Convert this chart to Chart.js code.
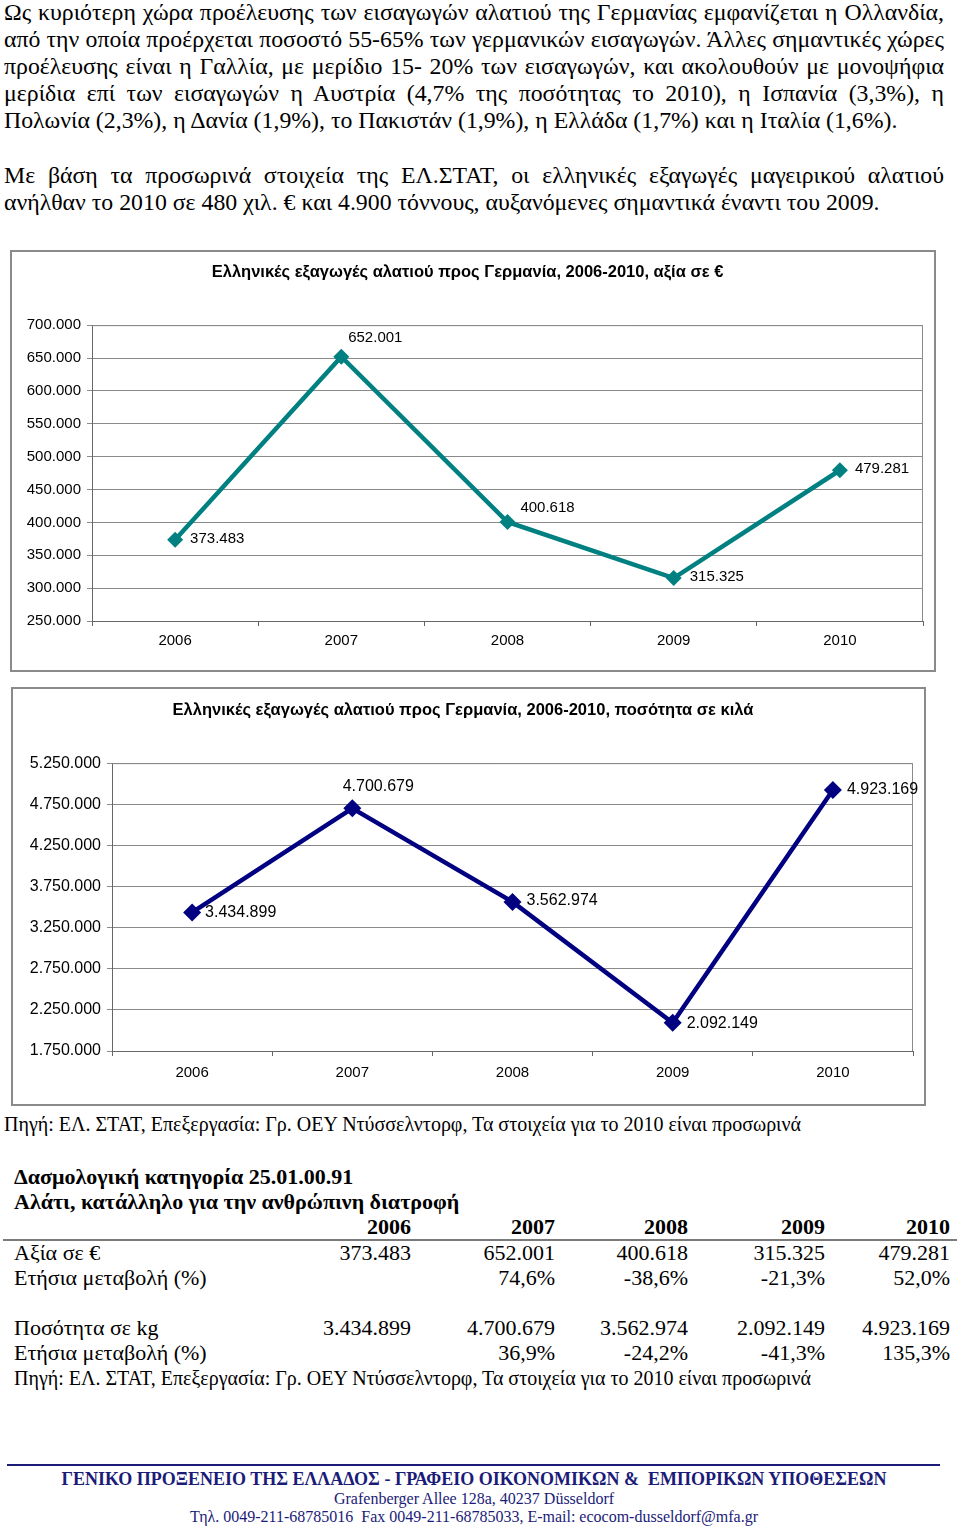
<!DOCTYPE html>
<html lang="el">
<head>
<meta charset="utf-8">
<script src="https://cdn.jsdelivr.net/npm/chart.js@4/dist/chart.umd.min.js"></script>
<style>
  body { margin: 0; background: #fff; width: 960px; height: 1535px; position: relative; overflow: hidden;
         font-family: "Liberation Serif", "Times New Roman", serif; color: #000; }
  .ln { position: absolute; left: 4px; width: 940px; font-size: 23.8px; line-height: 27px; white-space: nowrap; }
  .just { text-align: justify; text-align-last: justify; white-space: normal; }
  .box { position: absolute; border: 2px solid #8a8a8a; background: #fff; }
  .box canvas { display: block; }
  .src { position: absolute; font-size: 20px; line-height: 25px; white-space: nowrap; }
  #tbl { position: absolute; left: 14px; top: 1164px; border-collapse: collapse; table-layout: fixed; font-size: 22px; }
  #tbl td { padding: 0; height: 25.2px; line-height: 25.2px; white-space: nowrap; text-align: right; }
  #tbl td.lab { text-align: left; }
  #tbl td.note { font-size: 20px; }
  #tbl tr.b td { font-weight: bold; }
  .rule { position: absolute; left: 3px; top: 1239px; width: 954px; height: 2px; background: #7a7a7a; }
  .foot { position: absolute; left: 0; width: 948px; text-align: center; color: #1b1b78; white-space: nowrap; }
</style>
</head>
<body>

<div class="ln just" style="top:-1px">Ως κυριότερη χώρα προέλευσης των εισαγωγών αλατιού της Γερμανίας εμφανίζεται η Ολλανδία,</div>
<div class="ln just" style="top:26px">από την οποία προέρχεται ποσοστό 55-65% των γερμανικών εισαγωγών. Άλλες σημαντικές χώρες</div>
<div class="ln just" style="top:53px">προέλευσης είναι η Γαλλία, με μερίδιο 15- 20% των εισαγωγών, και ακολουθούν με μονοψήφια</div>
<div class="ln just" style="top:80px">μερίδια επί των εισαγωγών η Αυστρία (4,7% της ποσότητας το 2010), η Ισπανία (3,3%), η</div>
<div class="ln" style="top:107px">Πολωνία (2,3%), η Δανία (1,9%), το Πακιστάν (1,9%), η Ελλάδα (1,7%) και η Ιταλία (1,6%).</div>

<div class="ln just" style="top:162px">Με βάση τα προσωρινά στοιχεία της ΕΛ.ΣΤΑΤ, οι ελληνικές εξαγωγές μαγειρικού αλατιού</div>
<div class="ln" style="top:189px">ανήλθαν το 2010 σε 480 χιλ. € και 4.900 τόννους, αυξανόμενες σημαντικά έναντι του 2009.</div>

<div class="box" style="left:10px; top:250px;"><canvas id="valueChart" width="922" height="418"></canvas></div>
<div class="box" style="left:11px; top:687px;"><canvas id="qtyChart" width="911" height="415"></canvas></div>

<div class="src" style="left:4px; top:1112px;">Πηγή: ΕΛ. ΣΤΑΤ, Επεξεργασία: Γρ. ΟΕΥ Ντύσσελντορφ, Τα στοιχεία για το 2010 είναι προσωρινά</div>

<table id="tbl"></table>
<div class="rule"></div>

<div style="position:absolute; left:7px; top:1464px; width:933px; height:2px; background:#1b1b78;"></div>
<div class="foot" style="top:1469px; font-size:18px; font-weight:bold;">ΓΕΝΙΚΟ ΠΡΟΞΕΝΕΙΟ ΤΗΣ ΕΛΛΑΔΟΣ - ΓΡΑΦΕΙΟ ΟΙΚΟΝΟΜΙΚΩΝ &amp;&nbsp; ΕΜΠΟΡΙΚΩΝ ΥΠΟΘΕΣΕΩΝ</div>
<div class="foot" style="top:1490px; font-size:16px;">Grafenberger Allee 128a, 40237 Düsseldorf</div>
<div class="foot" style="top:1508px; font-size:16px;">Τηλ. 0049-211-68785016&nbsp; Fax 0049-211-68785033, E-mail: ecocom-dusseldorf@mfa.gr</div>

<script>
// data
const years = ['2006', '2007', '2008', '2009', '2010'];
const valueEur = [373483, 652001, 400618, 315325, 479281];
const quantityKg = [3434899, 4700679, 3562974, 2092149, 4923169];
const valueChange = ['', '74,6%', '-38,6%', '-21,3%', '52,0%'];
const quantityChange = ['', '36,9%', '-24,2%', '-41,3%', '135,3%'];
const valueTicks = [250000, 700000, 50000];      // min, max, step
const quantityTicks = [1750000, 5250000, 500000];

// label placement (dx, dy, align) per point
const valueLabelPos = [[15, -1, 'left'], [34, -19, 'center'], [40, -14, 'center'], [16, -1, 'left'], [15, -1, 'left']];
const qtyLabelPos = [[13, 0, 'left'], [26, -22, 'center'], [14, -1, 'left'], [14, 1, 'left'], [14, 0, 'left']];

const sans = '"Liberation Sans", Arial, sans-serif';

function fmt(n) {
  return String(n).replace(/\B(?=(\d{3})+(?!\d))/g, '.');
}

const pointLabels = {
  id: 'pointLabels',
  afterDatasetsDraw(chart, args, opts) {
    const ctx = chart.ctx;
    const meta = chart.getDatasetMeta(0);
    const vals = chart.data.datasets[0].data;
    ctx.save();
    ctx.font = opts.size + 'px ' + sans;
    ctx.fillStyle = '#000';
    ctx.textBaseline = 'middle';
    meta.data.forEach((pt, i) => {
      const p = opts.pos[i];
      ctx.textAlign = p[2];
      ctx.fillText(fmt(vals[i]), pt.x + p[0], pt.y + p[1]);
    });
    ctx.restore();
  }
};

const plotFrame = {
  id: 'plotFrame',
  beforeDatasetsDraw(chart) {
    const a = chart.chartArea, ctx = chart.ctx;
    ctx.save();
    ctx.strokeStyle = '#8a8a8a';
    ctx.lineWidth = 1;
    ctx.beginPath();
    ctx.moveTo(a.left, a.top + 0.5);
    ctx.lineTo(a.right - 0.5, a.top + 0.5);
    ctx.lineTo(a.right - 0.5, a.bottom);
    ctx.stroke();
    ctx.restore();
  }
};

function makeChart(id, title, data, ticks, color, radius, lblSize, yWidth, yTickSize, pad, titlePad, xPad, labelPos) {
  return new Chart(document.getElementById(id), {
    type: 'line',
    data: {
      labels: years,
      datasets: [{
        data: data,
        borderColor: color,
        backgroundColor: color,
        borderWidth: 4.5,
        pointStyle: 'rectRot',
        pointRadius: radius,
        pointBorderWidth: 0,
        tension: 0
      }]
    },
    options: {
      responsive: false,
      animation: false,
      layout: { padding: pad },
      plugins: {
        legend: { display: false },
        tooltip: { enabled: false },
        title: {
          display: true,
          text: title,
          color: '#000',
          font: { family: sans, size: 16.5, weight: 'bold', lineHeight: 1.1 },
          padding: titlePad
        },
        pointLabels: { size: lblSize, pos: labelPos }
      },
      scales: {
        x: {
          offset: true,
          grid: { display: true, offset: true, drawOnChartArea: false, drawTicks: true, tickLength: 5, color: '#666' },
          border: { color: '#666', width: 1 },
          ticks: { color: '#000', font: { family: sans, size: 15 }, padding: xPad },
          afterFit: s => { s.height = 5 + xPad + 18; }
        },
        y: {
          min: ticks[0],
          max: ticks[1],
          grid: { color: '#8a8a8a', tickLength: 5, drawTicks: true },
          border: { color: '#666', width: 1 },
          ticks: { stepSize: ticks[2], color: '#000', font: { family: sans, size: yTickSize }, padding: 6,
                   callback: v => fmt(v) },
          afterFit: s => { s.width = yWidth; }
        }
      }
    },
    plugins: [pointLabels, plotFrame]
  });
}

makeChart('valueChart', 'Ελληνικές εξαγωγές αλατιού προς Γερμανία, 2006-2010, αξία σε €',
  valueEur, valueTicks, '#008080', 8, 15, 80, 15,
  { left: 0, right: 11, top: 0, bottom: 20 }, { top: 11, bottom: 44 }, 6, valueLabelPos);

makeChart('qtyChart', 'Ελληνικές εξαγωγές αλατιού προς Γερμανία, 2006-2010, ποσότητα σε κιλά',
  quantityKg, quantityTicks, '#000080', 9, 16, 99, 16,
  { left: 0, right: 11, top: 0, bottom: 22 }, { top: 12, bottom: 44 }, 8, qtyLabelPos);

// table
const colW = [246, 151, 144, 133, 137, 125];
const tbl = document.getElementById('tbl');
let html = '<colgroup>' + colW.map(w => '<col style="width:' + w + 'px">').join('') + '</colgroup>';
html += '<tr class="b"><td class="lab" colspan="6">Δασμολογική κατηγορία 25.01.00.91</td></tr>';
html += '<tr class="b"><td class="lab" colspan="6">Αλάτι, κατάλληλο για την ανθρώπινη διατροφή</td></tr>';
html += '<tr class="b"><td></td>' + years.map(y => '<td>' + y + '</td>').join('') + '</tr>';
html += '<tr><td class="lab">Αξία σε €</td>' + valueEur.map(v => '<td>' + fmt(v) + '</td>').join('') + '</tr>';
html += '<tr><td class="lab">Ετήσια μεταβολή (%)</td>' + valueChange.map(v => '<td>' + v + '</td>').join('') + '</tr>';
html += '<tr><td colspan="6"></td></tr>';
html += '<tr><td class="lab">Ποσότητα σε kg</td>' + quantityKg.map(v => '<td>' + fmt(v) + '</td>').join('') + '</tr>';
html += '<tr><td class="lab">Ετήσια μεταβολή (%)</td>' + quantityChange.map(v => '<td>' + v + '</td>').join('') + '</tr>';
html += '<tr><td class="lab note" colspan="6">Πηγή: ΕΛ. ΣΤΑΤ, Επεξεργασία: Γρ. ΟΕΥ Ντύσσελντορφ, Τα στοιχεία για το 2010 είναι προσωρινά</td></tr>';
tbl.innerHTML = html;
</script>
</body>
</html>
